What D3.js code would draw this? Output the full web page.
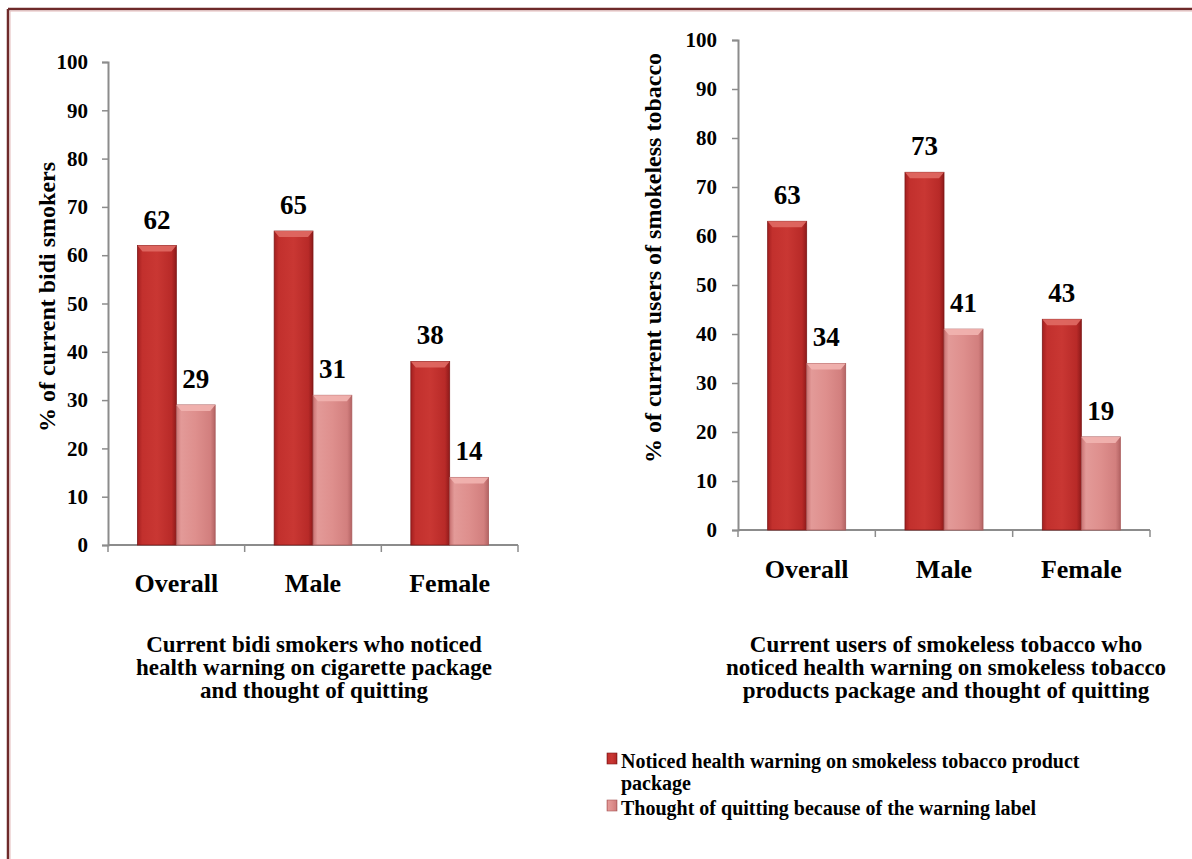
<!DOCTYPE html>
<html>
<head>
<meta charset="utf-8">
<title>Health warnings and thought of quitting</title>
<script src="https://cdn.jsdelivr.net/npm/d3@7"></script>
<style>
    body { margin: 0; background: #fff; }
    svg text { font-family: "Liberation Serif", "Times New Roman", serif; font-weight: bold; fill: #000; }
    .axis path, .axis line { stroke: #8c8c8c; }
</style>
</head>
<body>
<script>
    // data
    var categories = ["Overall", "Male", "Female"];
    var seriesNames = ["Noticed health warning on smokeless tobacco product package",
                       "Thought of quitting because of the warning label"];
    var bidiNoticed = [62, 65, 38];
    var bidiQuit = [29, 31, 14];
    var slessNoticed = [63, 73, 43];
    var slessQuit = [34, 41, 19];
    var yTicks = [0, 10, 20, 30, 40, 50, 60, 70, 80, 90, 100];

    var width = 1192, height = 859;
    var svg = d3.select("body").append("svg")
        .attr("width", width)
        .attr("height", height);

    // gradients for the bevelled bars
    var defs = svg.append("defs");
    function hGrad(id, stops) {
        var g = defs.append("linearGradient").attr("id", id)
            .attr("x1", 0).attr("x2", 1).attr("y1", 0).attr("y2", 0);
        stops.forEach(function (s) {
            g.append("stop").attr("offset", s[0]).attr("stop-color", s[1]);
        });
    }
    hGrad("gRed", [[0, "#a31f1f"], [0.12, "#c2302d"], [0.5, "#c93733"], [0.88, "#b82a28"], [1, "#8e1a1a"]]);
    hGrad("gPink", [[0, "#c97272"], [0.12, "#e39a98"], [0.5, "#de8f8d"], [0.88, "#d27f7e"], [1, "#b46464"]]);
    var fills = ["url(#gRed)", "url(#gPink)"];
    var caps = ["#e06a64", "#f2b4b0"];
    var edges = ["#7e1818", "#a85959"];

    // page border
    svg.append("line").attr("x1", 8).attr("x2", width).attr("y1", 9).attr("y2", 9)
        .attr("stroke", "#6e2a2a").attr("stroke-width", 2.5);
    svg.append("line").attr("x1", 8).attr("x2", 8).attr("y1", 9).attr("y2", height)
        .attr("stroke", "#6e2a2a").attr("stroke-width", 2.5);
    svg.append("line").attr("x1", 10).attr("x2", width).attr("y1", 11).attr("y2", 11)
        .attr("stroke", "#e3b9b9").attr("stroke-width", 1);
    svg.append("line").attr("x1", 10).attr("x2", 10).attr("y1", 11).attr("y2", height)
        .attr("stroke", "#e3b9b9").attr("stroke-width", 1);

    function drawChart(cfg) {
        var g = svg.append("g");
        var x0 = d3.scaleBand().domain(categories).range([cfg.x0, cfg.x1]).padding(0);
        var x1 = d3.scaleBand().domain([0, 1]).range([0, x0.bandwidth()])
            .paddingInner(0).paddingOuter(0.76);
        var y = d3.scaleLinear().domain([0, 100]).range([cfg.yb, cfg.yt]);

        // y axis
        var ya = g.append("g").attr("class", "axis")
            .attr("transform", "translate(" + cfg.x0 + ",0)")
            .call(d3.axisLeft(y).tickValues(yTicks).tickSize(6).tickSizeOuter(6).tickPadding(cfg.tp));
        ya.select(".domain").attr("stroke-width", 2);
        ya.selectAll("line").attr("stroke-width", 1.5);
        ya.selectAll("text").style("font-size", "21px");

        // x axis with boundary ticks
        var xa = g.append("g").attr("class", "axis")
            .attr("transform", "translate(0," + cfg.yb + ")");
        xa.append("line").attr("x1", cfg.x0).attr("x2", cfg.x1)
            .attr("stroke-width", 2);
        xa.selectAll(".bt")
            .data(categories.concat(["end"]))
            .enter().append("line")
            .attr("class", "bt")
            .attr("x1", function (d, i) { return i < categories.length ? x0(d) : cfg.x1; })
            .attr("x2", function (d, i) { return i < categories.length ? x0(d) : cfg.x1; })
            .attr("y1", 0).attr("y2", 7)
            .attr("stroke-width", 1.5);
        xa.selectAll(".cl")
            .data(categories)
            .enter().append("text")
            .attr("class", "cl")
            .attr("x", function (d) { return x0(d) + x0.bandwidth() / 2; })
            .attr("y", cfg.catDy)
            .attr("text-anchor", "middle")
            .style("font-size", "26px")
            .text(function (d) { return d; });

        // bars
        var rows = [];
        categories.forEach(function (c, i) {
            rows.push({ cat: c, s: 0, v: cfg.a[i] });
            rows.push({ cat: c, s: 1, v: cfg.b[i] });
        });
        var bars = g.selectAll(".bar").data(rows).enter().append("g").attr("class", "bar");
        bars.append("rect")
            .attr("x", function (d) { return x0(d.cat) + x1(d.s); })
            .attr("y", function (d) { return y(d.v); })
            .attr("width", x1.bandwidth())
            .attr("height", function (d) { return y(0) - y(d.v); })
            .attr("fill", function (d) { return fills[d.s]; })
            .attr("stroke", function (d) { return edges[d.s]; })
            .attr("stroke-width", 0.8);
        bars.append("polygon")
            .attr("points", function (d) {
                var xl = x0(d.cat) + x1(d.s), xr = xl + x1.bandwidth(), yt = y(d.v);
                return [[xl, yt], [xr, yt], [xr - 5, yt + 6], [xl + 5, yt + 6]].join(" ");
            })
            .attr("fill", function (d) { return caps[d.s]; })
            .attr("opacity", 0.9);
        bars.append("text")
            .attr("x", function (d) { return x0(d.cat) + x1(d.s) + x1.bandwidth() / 2; })
            .attr("y", function (d) { return y(d.v) - 17; })
            .attr("text-anchor", "middle")
            .style("font-size", "27px")
            .text(function (d) { return d.v; });

        // y axis title
        g.append("text")
            .attr("transform", "translate(" + cfg.ytx + "," + cfg.yty + ") rotate(-90)")
            .attr("text-anchor", "middle")
            .attr("dominant-baseline", "central")
            .style("font-size", "24px")
            .text(cfg.ytitle);

        // chart title
        g.append("g").selectAll("text")
            .data(cfg.title)
            .enter().append("text")
            .attr("x", cfg.tx)
            .attr("y", function (d, i) { return cfg.ty + i * 23; })
            .attr("text-anchor", "middle")
            .style("font-size", "23px")
            .text(function (d) { return d; });
    }

    drawChart({
        x0: 108, x1: 518, yt: 62, yb: 545, catDy: 47, tp: 14,
        a: bidiNoticed, b: bidiQuit,
        ytx: 47, yty: 297, ytitle: "% of current bidi smokers",
        tx: 314, ty: 652,
        title: ["Current bidi smokers who noticed", "health warning on cigarette package", "and thought of quitting"]
    });
    drawChart({
        x0: 738, x1: 1150, yt: 40, yb: 530, catDy: 48, tp: 15,
        a: slessNoticed, b: slessQuit,
        ytx: 653, yty: 258, ytitle: "% of current users of smokeless tobacco",
        tx: 946, ty: 652,
        title: ["Current users of smokeless tobacco who", "noticed health warning on smokeless tobacco", "products package and thought of quitting"]
    });

    // legend
    var legend = svg.append("g");
    var legendLines = [["Noticed health warning on smokeless tobacco product", "package"],
                       ["Thought of quitting because of the warning label"]];
    var legY = [768, 815];
    legendLines.forEach(function (lines, i) {
        legend.append("rect")
            .attr("x", 607).attr("y", legY[i] - 15)
            .attr("width", 10).attr("height", 11)
            .attr("fill", fills[i])
            .attr("stroke", edges[i]).attr("stroke-width", 0.6);
        var t = legend.append("text")
            .attr("x", 621).attr("y", legY[i])
            .style("font-size", "20px");
        lines.forEach(function (l, k) {
            t.append("tspan").attr("x", 621).attr("dy", k === 0 ? 0 : 22).text(l);
        });
    });
    // keep seriesNames referenced for the legend content
    legend.attr("aria-label", seriesNames.join("; "));
</script>
</body>
</html>
